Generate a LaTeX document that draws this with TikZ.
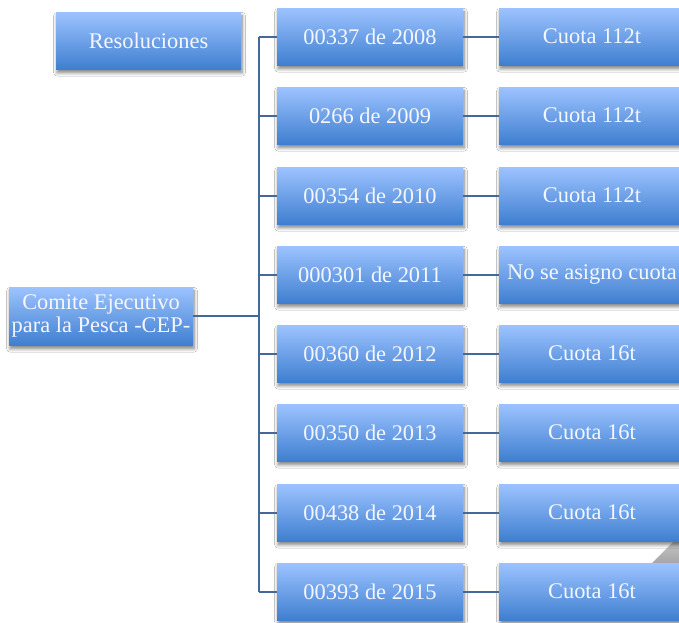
\documentclass[tikz,border=0pt]{standalone}
\usepackage{fontspec}
\setmainfont{Liberation Serif}
\usetikzlibrary{shadows.blur}
\definecolor{boxtop}{HTML}{9DC3FF}
\definecolor{boxbot}{HTML}{3F7FD0}
\definecolor{linec}{HTML}{45689A}
\definecolor{txtc}{HTML}{F4F7FF}
\tikzset{
  bluebox/.style={rectangle, inner sep=0pt, top color=boxtop, bottom color=boxbot,
    text=txtc, font=\fontsize{16.8}{17.5}\selectfont, align=center,
    minimum width=139.5pt, minimum height=42.75pt,
    blur shadow={shadow xshift=0.8pt, shadow yshift=-2.8pt, shadow blur steps=8, shadow blur radius=2.5pt, shadow opacity=50}},
  conn/.style={draw=linec, line width=1.5pt}
}
\begin{document}
\begin{tikzpicture}[x=0.75pt,y=-0.75pt]
\useasboundingbox (0,0) rectangle (679,622);
\fill[white] (0,0) rectangle (679,622);
% gray corner
\shade[top color=gray!45, bottom color=gray!70] (652,563) -- (675,540) -- (690,540) -- (690,563) -- cycle;
\node[bluebox, minimum width=138.75pt] (res) at (148.5,40.5) {Resoluciones};
\node[bluebox, minimum width=138pt, minimum height=43.5pt] (cep) at (101,316) {Comite Ejecutivo\\para la Pesca -CEP-};
\foreach \i/\y/\a/\b in {1/36.5/00337 de 2008/Cuota 112t,
  2/115.5/0266 de 2009/Cuota 112t,
  3/195.5/00354 de 2010/Cuota 112t,
  4/274.5/000301 de 2011/No se asigno cuota,
  5/353.5/00360 de 2012/Cuota 16t,
  6/432.5/00350 de 2013/Cuota 16t,
  7/512.5/00438 de 2014/Cuota 16t,
  8/591.5/00393 de 2015/Cuota 16t}{
  \node[bluebox] (m\i) at (370,\y) {\a};
  \node[bluebox] (r\i) at (592,\y) {\b};
}
\coordinate (bus) at (259,316);
\draw[conn] (cep.east) -- (bus);
\draw[conn] (m1.west -| bus) -- (m8.west -| bus);
\foreach \i in {1,...,8}{
  \draw[conn] (m\i.west -| bus) -- (m\i.west);
  \draw[conn] (m\i.east) -- (r\i.west);
}
\end{tikzpicture}
\end{document}
